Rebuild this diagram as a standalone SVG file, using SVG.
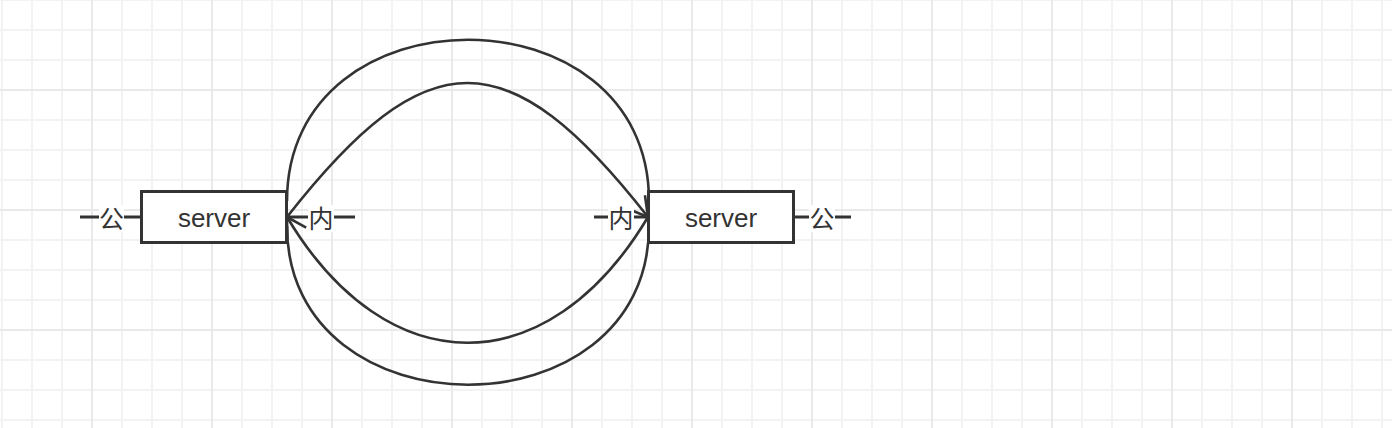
<svg xmlns="http://www.w3.org/2000/svg" width="1392" height="428" viewBox="0 0 1392 428">
<defs>
<pattern id="gMinor" patternUnits="userSpaceOnUse" x="1" y="-1" width="30" height="30"><rect x="0" y="0" width="2" height="30" fill="#f3f3f3"/><rect x="0" y="0" width="30" height="2" fill="#f3f3f3"/></pattern>
<pattern id="gMajor" patternUnits="userSpaceOnUse" x="91" y="89" width="120" height="120"><rect x="0" y="0" width="2" height="120" fill="#e9e9e9"/><rect x="0" y="0" width="120" height="2" fill="#e9e9e9"/></pattern>
<marker id="arr" markerUnits="userSpaceOnUse" markerWidth="40" markerHeight="40" viewBox="-25 -20 40 40" refX="0" refY="0" orient="auto" overflow="visible"><path d="M-19,-11 L0,0 L-19,11" fill="none" stroke="#333" stroke-width="2.6"/></marker>
</defs>
<style>
.box{fill:#fff;stroke:#333;stroke-width:3}
.edge{fill:none;stroke:#333;stroke-width:2.6}
.stub{fill:none;stroke:#333;stroke-width:3}
.t{font-family:"Liberation Sans","Noto Sans CJK SC",sans-serif;font-size:26px;fill:#333;text-anchor:middle}
.c{font-family:"Noto Sans CJK SC",sans-serif;font-size:25px;fill:#333;text-anchor:middle}
.bg{fill:#fff}
</style>
<rect width="1392" height="428" fill="#fff"/>
<rect width="1392" height="428" fill="url(#gMinor)"/>
<rect width="1392" height="428" fill="url(#gMajor)"/>
<g id="connectors">
<path class="edge" d="M287,201 C287,-14 649,-14 649,201"/>
<path class="edge" d="M287,226 C287,437.6 649,437.6 649,226"/>
<path class="edge" d="M287,217 C427,38.3 508,38.3 648,217" marker-end="url(#arr)"/>
<path class="edge" d="M648,217 C548,384.6 387,384.6 287,217" marker-end="url(#arr)"/>
<path class="stub" d="M80,217 H141"/>
<path class="stub" d="M287,217 H355"/>
<path class="stub" d="M594,217 H648"/>
<path class="stub" d="M795,217 H851"/>
</g>
<g id="server-left">
<rect class="box" x="141.5" y="191.5" width="145" height="51"/>
<text class="t" x="214" y="227">server</text>
</g>
<g id="server-right">
<rect class="box" x="648.5" y="191.5" width="145" height="51"/>
<text class="t" x="721" y="227">server</text>
</g>
<g id="label-gong-left"><rect class="bg" x="99" y="205" width="25" height="27"/><text class="c" x="111.5" y="228">公</text></g>
<g id="label-nei-left"><rect class="bg" x="308" y="205" width="26" height="27"/><text class="c" x="321" y="228">内</text></g>
<g id="label-nei-right"><rect class="bg" x="608" y="205" width="26" height="27"/><text class="c" x="621" y="228">内</text></g>
<g id="label-gong-right"><rect class="bg" x="809" y="205" width="26" height="27"/><text class="c" x="822" y="228">公</text></g>
</svg>
